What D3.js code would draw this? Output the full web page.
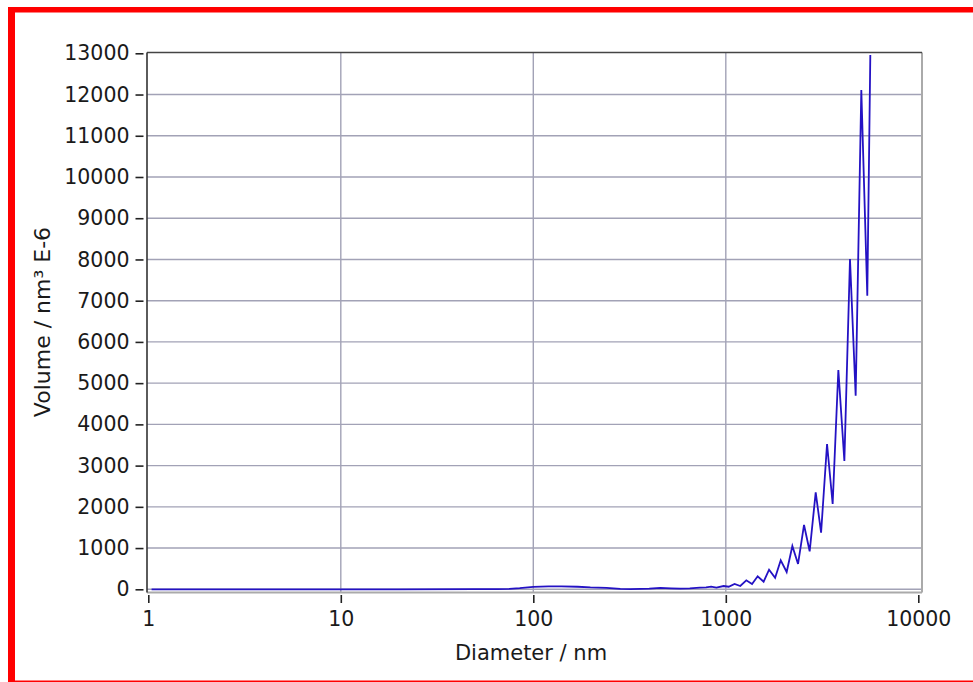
<!DOCTYPE html>
<html>
<head>
<meta charset="utf-8">
<script src="https://cdn.jsdelivr.net/npm/d3@7"></script>
<style>
  body { margin: 0; background: #fff; }
  svg text { font-family: "DejaVu Sans", Verdana, sans-serif; fill: #1a1a1a; }
</style>
</head>
<body>
<div id="chart"></div>
<script>
// diameter (nm) and volume (nm³ E-6)
var diameters = [1.04, 5, 20, 50, 65, 75, 85, 100, 120, 140, 170, 198, 240, 283, 320, 359, 400, 457, 520, 580, 650, 733,
  790, 839, 894, 974, 1035, 1111, 1189, 1278, 1369, 1464, 1572, 1678, 1804, 1929, 2071, 2217, 2373, 2549,
  2727, 2931, 3126, 3357, 3590, 3843, 4130, 4417, 4727, 5058, 5433, 5633];
var volumes = [0, 0, 0, 2, 5, 12, 28, 60, 72, 72, 62, 45, 35, 12, 5, 10, 18, 35, 22, 15, 22, 39,
  45, 63, 39, 80, 63, 130, 80, 218, 129, 315, 184, 475, 281, 703, 420, 1050, 614, 1560,
  922, 2353, 1373, 3524, 2069, 5319, 3112, 8011, 4695, 12110, 7121, 12960];

var xTicks = [1, 10, 100, 1000, 10000];
var yTicks = d3.range(0, 13001, 1000);

var data = diameters.map(function(d, i) { return {d: d, v: volumes[i]}; });

var W = 973, H = 682;
var svg = d3.select("#chart").append("svg")
  .attr("width", W)
  .attr("height", H);

// plot frame box
var box = {left: 147, right: 922, top: 52.5, bottom: 592.5};

var x = d3.scaleLog().domain([1, 10000]).range([148.3, 918.3]);
var y = d3.scaleLinear().domain([0, 13000]).range([589.3, 53.3]);

// red outline from the screenshot
svg.append("rect").attr("x", 8).attr("y", 7).attr("width", W - 8).attr("height", 5.5).attr("fill", "#ff0000");
svg.append("rect").attr("x", 8).attr("y", 7).attr("width", 7).attr("height", H - 7).attr("fill", "#ff0000");
svg.append("rect").attr("x", 8).attr("y", 680.5).attr("width", W - 8).attr("height", 1.5).attr("fill", "#ff0000");

// grid
var grid = svg.append("g");
grid.selectAll(".hg").data(yTicks.slice(0, -1)).enter().append("line")
  .attr("x1", box.left).attr("x2", box.right)
  .attr("y1", d => y(d)).attr("y2", d => y(d))
  .attr("stroke", "#a2a2b6").attr("stroke-width", 1.4);
grid.selectAll(".vg").data(xTicks.slice(1, -1)).enter().append("line")
  .attr("x1", d => x(d)).attr("x2", d => x(d))
  .attr("y1", box.top).attr("y2", box.bottom)
  .attr("stroke", "#a2a2b6").attr("stroke-width", 1.4);

// frame: light right/bottom, dark left/top
svg.append("line").attr("x1", box.right).attr("x2", box.right).attr("y1", box.top).attr("y2", box.bottom)
  .attr("stroke", "#aaaaaa").attr("stroke-width", 2);
svg.append("line").attr("x1", box.left).attr("x2", box.right).attr("y1", box.bottom).attr("y2", box.bottom)
  .attr("stroke", "#aaaaaa").attr("stroke-width", 2);
svg.append("line").attr("x1", box.left).attr("x2", box.right).attr("y1", box.top).attr("y2", box.top)
  .attr("stroke", "#444444").attr("stroke-width", 1.6);
svg.append("line").attr("x1", box.left).attr("x2", box.left).attr("y1", box.top).attr("y2", box.bottom)
  .attr("stroke", "#333333").attr("stroke-width", 1.6);

// the line
var line = d3.line()
  .x(d => x(d.d))
  .y(d => y(d.v));

svg.append("path")
  .datum(data)
  .attr("d", line)
  .attr("fill", "none")
  .attr("stroke", "#2412c4")
  .attr("stroke-width", 1.8)
  .attr("stroke-linejoin", "miter");

// axes
var leftAxis = d3.axisLeft(y).tickValues(yTicks).tickSize(8).tickPadding(6).tickFormat(d3.format("d"));
var yAxis = svg.append("g").attr("transform", "translate(143.5,0)").call(leftAxis);

var bottomAxis = d3.axisBottom(x).tickValues(xTicks).tickSize(8).tickPadding(8).tickFormat(d3.format("d"));
var xAxis = svg.append("g").attr("transform", "translate(0,595)").call(bottomAxis);

[yAxis, xAxis].forEach(function(g) {
  g.select(".domain").remove();
  g.selectAll(".tick line").attr("stroke", "#222").attr("stroke-width", 1.6);
  g.selectAll(".tick text").attr("font-size", "20.5px").attr("fill", "#1a1a1a")
    .style("font-family", "'DejaVu Sans', Verdana, sans-serif");
});

// axis titles
svg.append("text")
  .attr("x", 531).attr("y", 660)
  .attr("text-anchor", "middle")
  .attr("font-size", "21px")
  .text("Diameter / nm");

svg.append("text")
  .attr("transform", "translate(50,322) rotate(-90)")
  .attr("text-anchor", "middle")
  .attr("font-size", "22px")
  .attr("fill", "#2e2a2a")
  .text("Volume / nm³ E-6");
</script>
</body>
</html>
